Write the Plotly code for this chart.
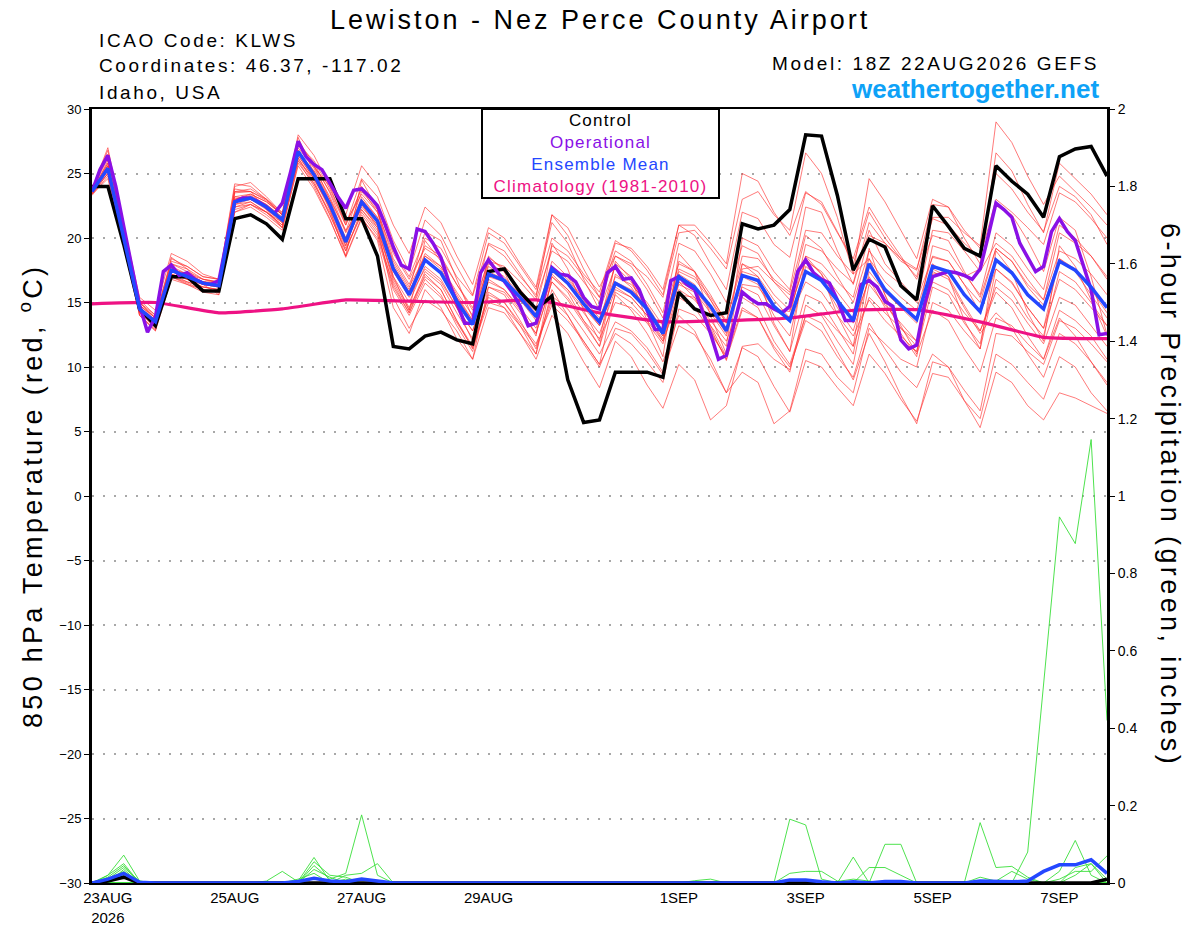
import pandas as pd
import plotly.graph_objects as go

# GEFS plume, run 18Z 22AUG2026, 6-hourly out to 384 h (operational is 3-hourly)
run_start = "2026-08-22 18:00"
times_6h = pd.date_range(run_start, periods=65, freq="6h")
times_3h = pd.date_range(run_start, periods=129, freq="3h")
times_24h = pd.date_range(run_start, periods=17, freq="24h")

tick_dates = ["2026-08-23", "2026-08-25", "2026-08-27", "2026-08-29",
              "2026-09-01", "2026-09-03", "2026-09-05", "2026-09-07"]
tick_labels = ["23AUG<br>2026", "25AUG", "27AUG", "29AUG", "1SEP", "3SEP", "5SEP", "7SEP"]

# 850 hPa temperature (C)
control_t = [24.0,
             24.0, 19.5, 14.5, 13.2, 17.0, 17.0, 15.9, 15.9, 21.5, 21.8, 21.1, 19.9,
             24.6, 24.6, 24.6, 21.5, 21.5, 18.6, 11.6, 11.4, 12.4, 12.7, 12.1, 11.8,
             17.4, 17.6, 15.8, 14.5, 15.5, 9.0, 5.7, 5.9, 9.6, 9.6, 9.6, 9.2,
             15.8, 14.5, 14.0, 14.2, 21.1, 20.7, 21.0, 22.2, 28.0, 27.9, 23.3, 17.5,
             19.9, 19.3, 16.3, 15.2, 22.5, 20.9, 19.2, 18.6, 25.6, 24.4, 23.4, 21.6,
             26.3, 26.9, 27.1, 24.8]

operational_t = [23.6,
                 25.3, 26.4, 24.0, 20.9, 18.0, 14.8, 12.7, 13.9,
                 17.4, 17.9, 17.1, 17.3, 16.8, 16.5, 16.4, 16.7,
                 19.8, 22.8, 23.1, 23.1, 22.8, 22.4, 21.9, 22.7,
                 25.0, 27.5, 26.3, 25.7, 25.3, 24.2, 23.2, 22.3,
                 23.7, 23.8, 23.2, 22.5, 21.0, 19.3, 17.9, 17.6,
                 20.7, 20.5, 19.6, 18.5, 16.6, 15.0, 13.4, 13.4,
                 17.3, 18.3, 17.5, 16.6, 15.8, 14.7, 13.2, 13.4,
                 15.4, 17.7, 17.2, 17.1, 16.6, 15.4, 14.7, 14.5,
                 17.3, 17.8, 16.8, 16.9, 16.0, 14.4, 12.9, 12.9,
                 16.7, 17.0, 16.4, 16.0, 14.3, 12.6, 10.6, 10.9,
                 13.4, 15.8, 15.3, 14.9, 14.9, 14.5, 14.2, 14.7,
                 17.4, 18.3, 17.3, 16.8, 16.5, 15.2, 13.6, 13.6,
                 16.4, 16.7, 16.2, 15.1, 14.7, 12.1, 11.4, 11.7,
                 14.9, 17.0, 17.2, 17.4, 17.3, 17.1, 16.8, 17.6,
                 20.1, 22.7, 22.2, 21.6, 19.6, 18.5, 17.4, 17.8,
                 20.5, 21.5, 20.5, 19.8, 18.0, 16.0, 12.5, 12.6]

mean_t = [23.6,
          25.4, 20.0, 14.5, 13.5, 17.5, 17.0, 16.5, 16.3, 22.8, 23.1, 22.4, 21.4,
          26.7, 24.9, 22.6, 19.7, 22.8, 21.3, 17.6, 15.6, 18.3, 17.3, 15.1, 13.3,
          17.2, 16.7, 15.4, 13.9, 17.6, 16.5, 14.9, 13.5, 16.5, 15.8, 14.5, 12.6,
          17.0, 16.2, 14.7, 12.8, 17.1, 16.7, 14.7, 13.6, 17.4, 16.7, 15.1, 13.6,
          18.0, 16.0, 14.8, 13.7, 17.8, 17.4, 15.6, 14.3, 18.3, 17.3, 15.6, 14.5,
          18.2, 17.5, 16.2, 14.6]

climo_t = [14.9, 15.0, 14.2, 14.5, 15.2, 15.1, 15.0, 15.2, 14.2,
           13.5, 13.6, 13.8, 14.4, 14.45, 13.5, 12.3, 12.2]

members_t = [
    [23.8, 26.5, 20.5, 14.8, 13.8, 18.0, 17.4, 16.8, 16.5, 23.5, 23.6, 22.9, 21.8,
     27.5, 25.8, 23.5, 20.5, 24.0, 22.5, 19.0, 17.0, 20.0, 19.2, 17.0, 15.5,
     19.5, 18.6, 17.0, 15.6, 20.0, 19.0, 17.2, 15.8, 19.8, 19.0, 17.5, 15.6,
     21.0, 20.2, 18.0, 16.0, 22.0, 21.5, 19.5, 18.5, 23.5, 22.8, 20.5, 18.0,
     22.0, 20.0, 18.4, 17.0, 21.5, 21.0, 19.6, 18.5, 23.0, 22.0, 20.8, 19.5,
     23.5, 22.8, 21.5, 20.0],
    [23.4, 25.0, 19.6, 14.2, 13.0, 17.0, 16.5, 16.0, 15.8, 22.0, 22.6, 21.8, 20.8,
     26.0, 24.0, 21.5, 18.5, 21.5, 20.0, 16.0, 14.0, 16.5, 15.4, 13.4, 11.5,
     15.0, 14.6, 13.2, 11.6, 15.5, 14.5, 12.8, 11.0, 13.5, 12.8, 11.5, 9.6,
     13.2, 12.5, 10.6, 8.0, 11.5, 10.8, 8.5, 6.5, 10.5, 10.0, 8.4, 7.0,
     11.0, 9.5, 7.5, 5.8, 9.5, 9.2, 7.4, 6.0, 11.0, 10.2, 8.8, 7.5,
     10.8, 10.0, 8.0, 6.6],
    [23.7, 26.2, 20.4, 14.0, 12.9, 17.8, 17.2, 16.6, 16.4, 23.0, 23.2, 22.6, 21.6,
     27.2, 25.5, 24.0, 21.0, 23.8, 22.0, 18.0, 16.0, 20.5, 19.8, 16.8, 13.8,
     18.5, 17.6, 16.0, 13.8, 18.2, 17.0, 15.2, 13.4, 18.0, 17.0, 14.4, 12.6,
     17.2, 16.4, 13.0, 10.5, 15.6, 15.0, 14.5, 14.3, 18.4, 17.2, 15.2, 13.4,
     16.8, 14.6, 12.0, 11.2, 17.2, 17.4, 17.0, 17.6, 22.5, 21.8, 19.8, 17.4,
     21.6, 20.6, 17.0, 12.5],
    [23.5, 25.8, 19.8, 14.6, 13.6, 17.2, 16.8, 16.2, 16.0, 22.6, 22.8, 22.0, 21.0,
     26.2, 24.4, 21.8, 19.0, 22.0, 20.4, 16.2, 14.2, 16.8, 15.6, 13.2, 11.2,
     15.6, 15.0, 13.4, 11.8, 14.8, 13.6, 12.0, 10.2, 12.6, 11.8, 10.4, 8.8,
     14.5, 14.0, 12.6, 10.8, 16.4, 16.2, 14.6, 13.8, 19.5, 19.0, 17.6, 16.5,
     21.2, 19.6, 18.2, 17.5, 22.6, 22.4, 20.6, 19.2, 25.0, 23.8, 22.0, 20.5,
     24.0, 23.2, 21.8, 19.5],
    [23.6, 25.6, 20.2, 14.0, 12.8, 18.5, 17.6, 16.4, 15.6, 23.8, 23.6, 22.2, 20.8,
     27.8, 25.0, 22.2, 18.6, 24.5, 22.2, 17.0, 14.4, 19.8, 18.2, 14.6, 12.0,
     18.6, 17.4, 14.6, 12.4, 19.6, 17.6, 14.4, 12.0, 18.2, 16.8, 13.6, 10.8,
     18.8, 17.4, 14.0, 11.0, 18.0, 17.0, 13.4, 11.2, 18.6, 17.2, 14.0, 11.6,
     19.2, 15.6, 12.6, 10.8, 18.0, 17.0, 13.6, 11.4, 19.0, 17.4, 14.2, 12.0,
     19.4, 17.8, 15.2, 12.4],
    [23.9, 25.2, 20.0, 15.0, 14.0, 17.6, 17.0, 16.6, 16.6, 23.2, 23.0, 22.5, 21.4,
     26.5, 25.2, 23.0, 20.6, 22.2, 20.8, 15.4, 13.0, 15.2, 14.4, 12.8, 10.6,
     14.6, 14.2, 12.6, 11.0, 16.0, 14.0, 11.8, 10.0, 13.0, 12.6, 11.2, 9.4,
     15.6, 15.4, 13.2, 11.6, 20.0, 19.4, 17.4, 16.0, 22.4, 22.0, 19.0, 16.4,
     20.6, 18.0, 16.6, 15.2, 18.5, 18.2, 16.4, 14.2, 17.6, 16.5, 14.6, 13.0,
     16.8, 16.0, 14.6, 13.2],
    [23.5, 26.0, 20.8, 15.2, 14.0, 18.2, 17.8, 17.0, 16.8, 24.0, 24.3, 23.2, 21.9,
     27.2, 26.0, 23.8, 21.2, 23.4, 22.0, 18.8, 16.8, 19.2, 18.4, 16.4, 14.6,
     18.2, 17.8, 16.6, 15.2, 19.0, 18.2, 16.6, 15.0, 18.6, 18.0, 17.0, 15.4,
     20.4, 20.6, 19.2, 17.6, 23.0, 23.6, 21.8, 20.6, 26.6, 25.0, 21.6, 17.2,
     18.4, 15.6, 13.2, 11.0, 14.4, 13.6, 11.4, 9.6, 13.8, 13.2, 11.8, 10.6,
     14.4, 13.6, 12.4, 10.6],
    [23.3, 24.8, 19.4, 14.4, 13.4, 17.0, 16.6, 16.2, 16.0, 22.4, 22.6, 22.0, 21.2,
     26.0, 24.6, 22.4, 20.0, 22.6, 21.0, 17.4, 15.4, 17.6, 16.6, 14.6, 12.8,
     16.2, 15.8, 14.2, 12.6, 16.6, 15.4, 13.6, 12.2, 15.0, 14.6, 13.4, 11.8,
     16.0, 15.2, 13.6, 12.0, 15.4, 14.6, 12.0, 10.2, 14.0, 13.4, 11.2, 9.0,
     12.6, 10.4, 7.8, 5.6, 10.4, 10.0, 8.2, 6.6, 12.6, 12.4, 11.2, 10.2,
     13.6, 13.0, 11.8, 10.4],
    [23.6, 25.4, 19.9, 14.6, 13.6, 17.4, 17.0, 16.4, 16.2, 22.8, 23.0, 22.4, 21.2,
     26.8, 25.0, 22.8, 19.8, 23.2, 21.6, 18.2, 16.2, 18.6, 17.8, 15.8, 14.0,
     17.8, 17.0, 15.6, 14.2, 17.2, 16.0, 14.6, 13.2, 16.2, 15.4, 14.0, 12.2,
     16.4, 15.8, 14.2, 12.4, 17.6, 17.8, 16.6, 15.6, 18.6, 18.0, 16.6, 15.4,
     20.2, 19.6, 18.4, 17.6, 21.6, 21.6, 20.4, 19.4, 29.0, 27.4, 24.8, 22.6,
     24.8, 23.6, 22.4, 21.0],
    [23.7, 25.8, 20.2, 14.8, 13.8, 17.6, 17.2, 16.6, 16.4, 23.0, 23.3, 22.6, 21.6,
     26.6, 25.2, 22.8, 19.6, 22.4, 21.0, 16.8, 14.6, 17.0, 16.0, 13.6, 11.6,
     15.4, 14.6, 12.6, 10.6, 14.0, 12.6, 10.4, 8.4, 12.0, 10.8, 8.6, 6.8,
     10.2, 9.0, 5.9, 7.0, 11.6, 11.8, 10.6, 9.8, 14.0, 14.2, 12.8, 11.6,
     15.4, 14.2, 13.0, 12.0, 16.6, 16.0, 14.2, 12.8, 16.2, 15.2, 13.4, 11.8,
     15.4, 14.8, 13.2, 11.6],
    [23.8, 27.0, 21.0, 15.4, 14.4, 18.8, 18.2, 17.2, 16.8, 24.2, 24.0, 23.0, 22.0,
     28.0, 26.4, 24.0, 21.8, 25.6, 24.0, 21.0, 18.8, 22.4, 21.2, 18.6, 16.4,
     20.8, 20.0, 18.0, 16.2, 21.8, 20.2, 17.6, 15.4, 19.0, 18.2, 16.4, 14.2,
     19.6, 19.0, 17.2, 15.0, 19.4, 18.8, 16.6, 15.2, 20.2, 19.2, 17.0, 15.0,
     19.0, 17.4, 16.4, 15.0, 20.6, 20.4, 19.0, 17.4, 19.6, 18.6, 16.8, 15.2,
     20.4, 19.6, 18.6, 17.0],
    [23.5, 25.2, 19.8, 14.4, 13.4, 17.4, 16.8, 16.4, 16.2, 22.6, 23.0, 22.2, 21.2,
     26.4, 24.6, 22.2, 19.4, 22.6, 20.8, 16.6, 14.4, 17.4, 16.4, 14.2, 12.2,
     16.8, 16.0, 14.4, 12.6, 16.6, 15.2, 13.4, 11.6, 15.6, 14.4, 12.6, 10.4,
     14.0, 12.8, 10.2, 8.0, 9.6, 8.8, 5.6, 6.6, 11.4, 11.0, 9.2, 8.0,
     13.0, 11.8, 10.6, 10.0, 15.0, 14.4, 12.8, 11.4, 16.8, 15.8, 13.8, 12.4,
     17.4, 16.6, 15.0, 13.2],
    [23.6, 25.6, 20.0, 14.4, 13.2, 17.2, 16.8, 16.4, 16.2, 23.0, 23.4, 22.8, 21.8,
     27.0, 25.4, 23.2, 20.4, 23.0, 21.4, 17.8, 15.8, 18.8, 17.8, 15.6, 13.6,
     18.0, 17.4, 16.0, 14.6, 19.4, 18.6, 17.0, 15.4, 19.6, 19.2, 17.8, 16.0,
     21.0, 21.0, 19.6, 18.0, 25.0, 24.4, 22.0, 20.2, 23.6, 22.6, 20.4, 18.4,
     22.4, 20.4, 18.6, 16.8, 20.2, 19.8, 17.4, 15.4, 19.2, 18.2, 16.2, 14.8,
     18.4, 17.6, 16.0, 14.2],
    [23.4, 25.0, 19.8, 14.6, 13.6, 17.2, 16.6, 16.2, 16.0, 22.2, 22.6, 22.0, 21.0,
     26.2, 24.2, 21.8, 19.0, 22.2, 20.6, 17.0, 15.0, 17.8, 16.8, 14.6, 12.8,
     16.6, 16.0, 14.6, 13.0, 17.0, 16.0, 14.2, 12.6, 16.0, 15.4, 14.0, 12.0,
     15.4, 14.6, 12.8, 10.6, 14.4, 13.8, 11.6, 10.0, 13.6, 12.8, 10.8, 9.2,
     13.4, 11.4, 9.6, 8.4, 11.0, 10.0, 7.4, 5.3, 9.6, 8.8, 7.0, 5.9,
     8.0, 7.6, 7.0, 6.4],
    [23.6, 25.2, 20.0, 14.6, 13.6, 17.6, 17.2, 16.8, 16.6, 23.2, 23.4, 22.8, 21.8,
     26.8, 25.0, 22.6, 19.8, 23.0, 21.6, 17.8, 15.8, 18.6, 17.6, 15.4, 13.6,
     17.4, 16.8, 15.4, 14.0, 17.8, 16.8, 15.2, 13.8, 17.0, 16.4, 15.0, 13.2,
     17.6, 17.0, 15.4, 13.6, 18.0, 17.4, 15.6, 14.4, 18.2, 17.4, 15.8, 14.2,
     18.4, 16.6, 15.4, 14.4, 18.6, 18.2, 16.4, 15.0, 19.2, 18.2, 16.4, 15.2,
     19.0, 18.4, 17.2, 15.6],
    [23.7, 26.4, 20.6, 15.0, 13.8, 18.4, 17.8, 17.0, 16.8, 23.6, 23.8, 23.0, 21.8,
     27.4, 25.6, 23.6, 21.0, 24.6, 23.2, 19.8, 17.4, 21.4, 20.2, 17.8, 15.6,
     20.4, 19.6, 17.8, 16.0, 21.2, 19.6, 16.8, 14.4, 17.8, 16.6, 14.6, 12.4,
     16.6, 15.4, 13.2, 10.8, 14.6, 13.8, 11.4, 9.6, 14.8, 14.0, 12.0, 10.2,
     16.4, 14.8, 13.4, 12.0, 17.4, 16.8, 14.6, 12.6, 14.2, 13.0, 11.0, 9.2,
     12.6, 11.8, 10.4, 8.8],
    [23.5, 25.6, 20.2, 14.8, 13.6, 17.6, 17.0, 16.6, 16.4, 22.8, 23.2, 22.4, 21.4,
     26.4, 24.6, 22.4, 19.4, 22.8, 21.4, 17.6, 15.6, 18.2, 17.4, 15.4, 13.4,
     17.0, 16.6, 15.2, 13.6, 17.4, 16.4, 14.8, 13.2, 16.6, 16.0, 14.8, 12.8,
     17.4, 16.8, 15.2, 13.4, 18.6, 18.4, 16.8, 15.8, 20.6, 20.4, 18.6, 17.2,
     24.6, 22.8, 20.6, 18.4, 23.0, 22.4, 20.0, 18.0, 26.6, 25.2, 22.6, 20.4,
     25.8, 24.6, 23.4, 21.8],
    [23.6, 25.0, 19.6, 14.2, 13.2, 17.0, 16.4, 16.0, 15.8, 22.4, 22.8, 22.0, 20.8,
     25.6, 23.8, 21.4, 18.6, 21.6, 19.8, 14.6, 12.6, 16.0, 14.6, 12.2, 10.6,
     16.2, 15.6, 13.6, 11.4, 15.2, 14.0, 12.0, 10.2, 15.8, 15.0, 13.6, 12.0,
     16.6, 16.0, 14.4, 12.6, 17.4, 17.0, 15.2, 13.8, 16.6, 15.8, 14.0, 12.4,
     15.2, 13.6, 12.4, 11.2, 16.2, 15.6, 13.4, 11.8, 17.6, 16.6, 14.6, 13.0,
     18.4, 17.4, 15.6, 13.8],
    [23.8, 26.8, 20.8, 15.0, 13.8, 18.0, 17.6, 16.8, 16.6, 23.6, 23.6, 23.0, 21.8,
     27.4, 25.6, 23.0, 20.0, 23.6, 22.2, 18.4, 16.4, 19.4, 18.6, 16.4, 14.4,
     19.6, 19.0, 17.2, 15.4, 21.8, 20.8, 18.4, 16.2, 18.6, 17.8, 16.0, 13.8,
     18.0, 17.4, 15.6, 13.4, 16.2, 15.6, 13.2, 11.2, 15.6, 15.0, 13.0, 11.0,
     17.4, 15.8, 14.6, 13.4, 19.4, 19.0, 17.2, 15.6, 20.4, 19.4, 17.6, 16.0,
     21.0, 20.0, 18.6, 16.8],
    [23.4, 24.6, 19.4, 14.0, 12.8, 16.8, 16.4, 15.8, 15.6, 22.0, 22.4, 21.6, 20.6,
     25.8, 24.2, 22.0, 19.2, 21.8, 20.2, 16.4, 14.2, 17.2, 16.0, 13.6, 11.4,
     15.8, 15.0, 13.2, 11.0, 17.0, 15.8, 13.6, 11.6, 17.2, 16.2, 14.4, 12.4,
     18.2, 17.4, 15.2, 13.0, 17.0, 16.4, 14.0, 12.4, 17.8, 16.8, 14.6, 12.8,
     17.0, 15.0, 13.0, 11.6, 17.6, 17.0, 14.8, 12.8, 15.8, 14.6, 12.4, 10.6,
     13.8, 12.4, 10.4, 8.6],
]

# 6-hour precipitation (inches), only the non-zero steps (step index -> value)
control_p = {1: 0.005, 2: 0.015, 64: 0.01}
mean_p = {1: 0.01, 2: 0.025, 3: 0.002, 13: 0.004, 14: 0.012, 15: 0.005, 16: 0.003,
          17: 0.01, 18: 0.005, 44: 0.008, 45: 0.008, 46: 0.003, 48: 0.003, 50: 0.004,
          51: 0.004, 56: 0.005, 57: 0.003, 58: 0.003, 59: 0.005, 60: 0.03, 61: 0.047,
          62: 0.047, 63: 0.06, 64: 0.025}
members_p = {
    0: {1: 0.02, 2: 0.072, 3: 0.005, 61: 0.03, 62: 0.11, 63: 0.02},
    1: {11: 0.005, 12: 0.03, 13: 0.003, 56: 0.156, 57: 0.04, 58: 0.043, 59: 0.015},
    2: {1: 0.02, 2: 0.05, 56: 0.015, 57: 0.005, 58: 0.03, 59: 0.01},
    3: {13: 0.005, 14: 0.066, 15: 0.005},
    4: {1: 0.015, 2: 0.045, 48: 0.067},
    5: {14: 0.055, 15: 0.02, 16: 0.015, 62: 0.04, 63: 0.05},
    6: {14: 0.045, 15: 0.01, 16: 0.025, 17: 0.176, 18: 0.02},
    7: {16: 0.02, 17: 0.025, 18: 0.05},
    8: {1: 0.01, 2: 0.04, 3: 0.005, 49: 0.04, 50: 0.04, 51: 0.02},
    9: {14: 0.035, 15: 0.015, 59: 0.08, 60: 0.52, 61: 0.946, 62: 0.877, 63: 1.146, 64: 0.42},
    10: {2: 0.035},
    11: {13: 0.01, 14: 0.025, 16: 0.01},
    12: {1: 0.01, 2: 0.03, 61: 0.01, 62: 0.03, 63: 0.03, 64: 0.07},
    13: {44: 0.165, 45: 0.15, 46: 0.01},
    14: {2: 0.02},
    15: {44: 0.025, 45: 0.03, 46: 0.03, 47: 0.005},
    16: {50: 0.10, 51: 0.10, 62: 0.02, 63: 0.05, 64: 0.01},
    17: {47: 0.004, 48: 0.01, 49: 0.005},
    19: {38: 0.006, 39: 0.01},
}

RED = "rgba(255,45,45,0.7)"
GREEN = "#3ADF3A"
PURPLE = "#8A10E6"
BLUE = "#2447FF"
PINK = "#EE1284"
FONT = "Liberation Sans, Arial, sans-serif"

# the page body adds an 8px offset, so the figure is shrunk by that much and the
# plot area lands on page pixels x 92..1107, y 109..883
OFF = 8


def full_series(events):
    return [events.get(i, 0.0) for i in range(len(times_6h))]


def spaced(text, px):
    return f"<span style='letter-spacing:{px}px'>{text}</span>"


def px(x):
    return (x - 92) / 1015


def py(y):
    return (883 - y) / 774


fig = go.Figure()

for m in members_t:
    fig.add_trace(go.Scatter(x=times_6h, y=m, mode="lines",
                             line=dict(color=RED, width=0.9), hoverinfo="skip"))

for k in range(len(members_t)):
    fig.add_trace(go.Scatter(x=times_6h, y=full_series(members_p.get(k, {})),
                             mode="lines", yaxis="y2",
                             line=dict(color=GREEN, width=0.9), hoverinfo="skip"))
fig.add_trace(go.Scatter(x=times_6h, y=full_series(control_p), mode="lines", yaxis="y2",
                         line=dict(color="black", width=3.5)))
fig.add_trace(go.Scatter(x=times_6h, y=full_series(mean_p), mode="lines", yaxis="y2",
                         line=dict(color=BLUE, width=3.5)))

fig.add_trace(go.Scatter(x=times_24h, y=climo_t, mode="lines",
                         line=dict(color=PINK, width=3.2, shape="spline", smoothing=0.4)))
fig.add_trace(go.Scatter(x=times_6h, y=control_t, mode="lines",
                         line=dict(color="black", width=3.5)))
fig.add_trace(go.Scatter(x=times_3h, y=operational_t, mode="lines",
                         line=dict(color=PURPLE, width=3.5)))
fig.add_trace(go.Scatter(x=times_6h, y=mean_t, mode="lines",
                         line=dict(color=BLUE, width=3.5)))

legend_text = "<br>".join([
    spaced("Control", 1.2),
    f"<span style='color:{PURPLE}'>" + spaced("Operational", 1.2) + "</span>",
    f"<span style='color:{BLUE}'>" + spaced("Ensemble Mean", 1.2) + "</span>",
    f"<span style='color:{PINK}'>" + spaced("Climatology (1981-2010)", 1.2) + "</span>",
])

annotations = [
    dict(text=spaced("Lewiston - Nez Perce County Airport", 3), x=px(600), y=py(20),
         xanchor="center", yanchor="middle", font=dict(size=27)),
    dict(text=spaced("ICAO Code: KLWS", 2.6), x=px(97), y=py(40),
         xanchor="left", yanchor="middle", font=dict(size=19)),
    dict(text=spaced("Coordinates: 46.37, -117.02", 2.6), x=px(97), y=py(66),
         xanchor="left", yanchor="middle", font=dict(size=19)),
    dict(text=spaced("Idaho, USA", 2.6), x=px(97), y=py(92),
         xanchor="left", yanchor="middle", font=dict(size=19)),
    dict(text=spaced("Model: 18Z 22AUG2026 GEFS", 2.6), x=px(1101), y=py(64),
         xanchor="right", yanchor="middle", font=dict(size=19)),
    dict(text="<b>weathertogether.net</b>", x=px(1101), y=py(89),
         xanchor="right", yanchor="middle", font=dict(size=26, color="#0EA2F7")),
    dict(text=legend_text, x=px(600), y=py(108), xanchor="center", yanchor="top",
         font=dict(size=17), bgcolor="white", bordercolor="black", borderwidth=2,
         borderpad=1, width=233, align="center"),
    dict(text=spaced("850 hPa Temperature (red, <sup>o</sup>C)", 3.3), x=px(31), y=py(496),
         textangle=-90, xanchor="center", yanchor="middle", font=dict(size=27)),
    dict(text=spaced("6-hour Precipitation (green, inches)", 3.4), x=px(1170), y=py(495),
         textangle=90, xanchor="center", yanchor="middle", font=dict(size=27)),
]
for a in annotations:
    a.update(xref="paper", yref="paper", showarrow=False)
    a.setdefault("font", {})
    a["font"].setdefault("color", "black")
    a["font"]["family"] = FONT

fig_w = 1200 - OFF
fig_h = 927 - OFF
fig.update_layout(
    width=fig_w, height=fig_h,
    margin=dict(l=92 - OFF, r=fig_w - (1107 - OFF), t=109 - OFF, b=fig_h - (883 - OFF),
                autoexpand=False),
    paper_bgcolor="white", plot_bgcolor="white",
    showlegend=False,
    font=dict(family=FONT, color="black"),
    annotations=annotations,
    xaxis=dict(range=[times_6h[0], times_6h[-1]], tickvals=tick_dates, ticktext=tick_labels,
               tickfont=dict(size=15), showgrid=False, zeroline=False, automargin=False,
               showline=True, linecolor="black", linewidth=2, mirror=True, ticks=""),
    yaxis=dict(range=[-30, 30], dtick=5, tickfont=dict(size=13), showgrid=True,
               gridcolor="#A8A8A8", griddash="2px,9px", gridwidth=1.5, zeroline=False,
               showline=True, linecolor="black", linewidth=3, automargin=False,
               ticks="outside", ticklen=5, tickcolor="black"),
    yaxis2=dict(range=[0, 2], dtick=0.2, overlaying="y", side="right",
                tickfont=dict(size=14), showgrid=False, zeroline=False, automargin=False,
                showline=True, linecolor="black", linewidth=3,
                ticks="outside", ticklen=5, tickcolor="black"),
)

fig.write_html("out.html")
